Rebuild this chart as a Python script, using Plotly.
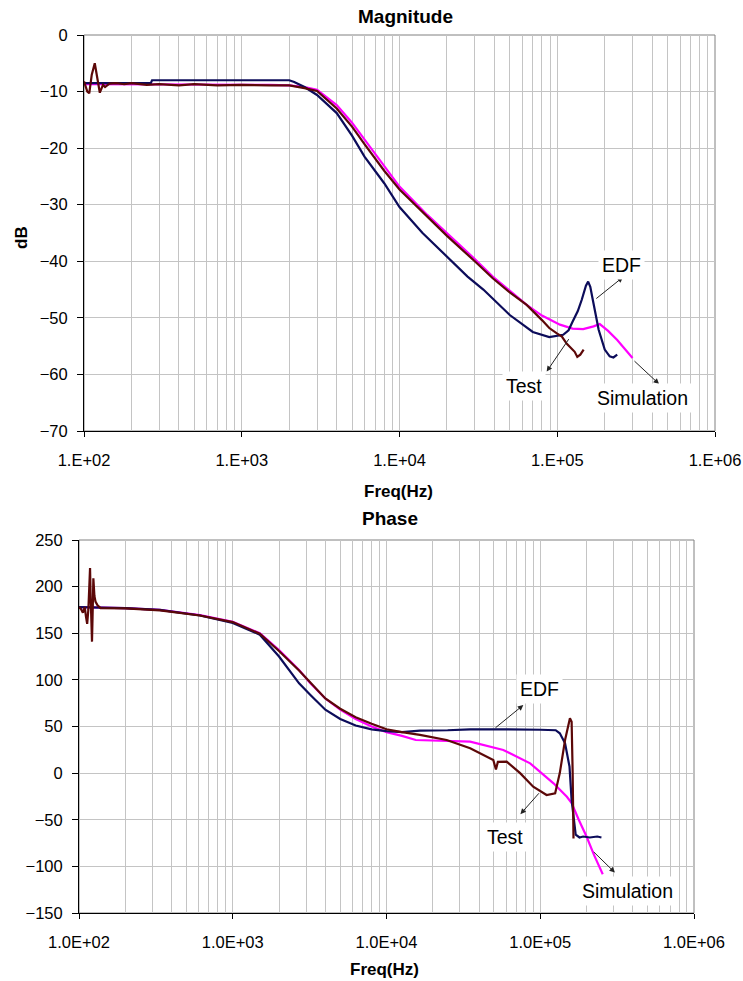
import numpy as np
import plotly.graph_objects as go

##########################################
# 1. Data
##########################################
# Magnitude (dB)
sim_mag_f = [100, 150, 200, 300, 500, 1000, 1500, 2000, 2500, 3000, 4000, 5000, 6000, 8000,
             10000, 15000, 20000, 30000, 39000, 64000, 80000, 104000, 125000, 146000, 170000,
             186000, 210000, 240000, 300000]
sim_mag = [-8.7, -8.7, -8.7, -8.7, -8.7, -8.8, -8.8, -8.9, -9.2, -9.7, -12.4, -15.5, -18.5, -23.3,
           -26.8, -31.8, -35.0, -39.6, -42.7, -47.7, -49.6, -51.2, -51.9, -52.0, -51.5,
           -51.1, -52.3, -53.9, -57.1]

edf_mag_f = [100, 150, 200, 265, 270, 500, 1000, 1500, 2000, 2150, 2500, 3000, 4000, 5000, 6000,
             8000, 10000, 14000, 20000, 27000, 34000, 50000, 70000, 89000, 109000, 118000, 125000,
             135000, 143000, 152000, 157000, 162000, 168000, 176000, 183000, 200000, 215000,
             227000, 240000]
edf_mag = [-8.5, -8.5, -8.5, -8.5, -8.0, -8.0, -8.0, -8.0, -8.0, -8.3, -9.2, -10.6, -13.8, -17.8, -21.5,
           -26.2, -30.4, -35.0, -39.2, -42.7, -45.0, -49.5, -52.5, -53.4, -53.0, -52.2, -50.7,
           -48.8, -46.8, -44.3, -43.6, -44.5, -46.8, -49.8, -52.1, -55.6, -56.8,
           -57.0, -56.5]

test_mag_f = [100, 105, 108, 112, 117, 121, 126, 132, 136, 145, 160, 180, 200, 250, 300, 400, 500,
              700, 1000, 1500, 2000, 2500, 3000, 4000, 5000, 6000, 8000, 10000, 15000, 20000,
              30000, 39000, 50000, 64000, 80000, 89000, 100000, 107000, 115000, 122000, 129000,
              134000, 140000, 147000]
test_mag = [-8.2, -10.0, -10.3, -7.0, -5.0, -7.5, -10.2, -8.8, -9.2, -8.6, -8.5, -8.7, -8.5, -8.8,
            -8.7, -8.9, -8.7, -8.9, -8.8, -8.9, -8.9, -9.4, -9.9, -13.0, -16.2, -19.3, -24.0, -27.3,
            -32.2, -35.5, -40.0, -43.0, -45.5, -47.7, -50.4, -51.8, -52.8, -53.3, -54.6, -55.3,
            -56.0, -56.9, -56.5, -55.6]

# Phase (deg)
sim_ph_f = [100, 200, 336, 612, 1000, 1500, 2000, 2700, 3200, 4000, 5000, 6300, 8000, 10000,
            12600, 15500, 35000, 57500, 86000, 122000, 149000, 160000, 178000, 200000, 224000,
            255000]
sim_ph = [178, 177, 175, 169.6, 162.4, 150, 132, 110.6, 96.3, 80, 68, 58, 50, 44,
          40, 35.5, 33.7, 24.8, 10.5, -10.9, -25.3, -32, -50, -68, -88,
          -108.5]

edf_ph_f = [100, 200, 336, 612, 1000, 1500, 2000, 2700, 3200, 4000, 5000, 6300, 8000, 10000,
            12600, 16500, 25000, 35000, 50000, 70000, 100000, 126000, 134000, 145000, 155000,
            160000, 166000, 170000, 180000, 190000, 210000, 235000, 250000]
edf_ph = [178, 177, 175, 169, 161, 148.5, 125, 96.3, 83.8, 68, 58, 51, 47, 45,
          44, 45.5, 46, 47, 47, 47, 46.5, 46, 42.7, 32, 7,
          -29, -55, -66, -69, -68, -69, -68, -69]

test_ph_f = [100, 103, 106, 109, 111, 113, 115, 117, 118, 119, 121.5, 123, 124, 126, 128, 132,
             138, 200, 336, 612, 1000, 1500, 2000, 2700, 3200, 4000, 5000, 6300, 8000, 10000,
             12600, 16500, 24600, 35000, 49500, 51500, 53000, 60500, 74000, 90000, 110000,
             125000, 134000, 145000, 156000, 160000, 162500, 164000, 164500]
test_ph = [178, 176, 172, 178, 168, 160, 175, 200, 220, 190, 141, 180, 209, 190, 184, 180,
           177, 176.7, 174.5, 169, 162, 149.5, 131, 110, 97, 80, 69, 60, 53, 47,
           44, 41, 35.5, 26.6, 14, 4, 12, 12.3, 0, -14.6, -23.5,
           -21.7, 0, 35.5, 58.8, 55, 0, -40, -70]

decades = [100, 1000, 10000, 100000, 1000000]
mag_ticktext = ["1.E+02", "1.E+03", "1.E+04", "1.E+05", "1.E+06"]
ph_ticktext = ["1.0E+02", "1.0E+03", "1.0E+04", "1.0E+05", "1.0E+06"]
minor_vals = [m * d for d in decades[:-1] for m in range(2, 10)]

##########################################
# 2. Plot
##########################################
W, H = 743, 981
FONT = "Arial, Liberation Sans, sans-serif"
GRID = "#c4c4c4"

def px(x):
    return x / W

def py(y):
    return 1 - y / H

fig = go.Figure()

series = [
    (sim_mag_f, sim_mag, "#ff00ff", "x", "y"),
    (edf_mag_f, edf_mag, "#0c0c5a", "x", "y"),
    (test_mag_f, test_mag, "#5c0808", "x", "y"),
    (sim_ph_f, sim_ph, "#ff00ff", "x2", "y2"),
    (edf_ph_f, edf_ph, "#0c0c5a", "x2", "y2"),
    (test_ph_f, test_ph, "#5c0808", "x2", "y2"),
]
for fx, fy, col, xa, ya in series:
    fig.add_trace(go.Scatter(x=fx, y=fy, mode="lines", line=dict(color=col, width=2.2),
                             xaxis=xa, yaxis=ya, showlegend=False, hoverinfo="skip"))

def xaxis_cfg(domain, anchor, ticktext):
    return dict(type="log", range=[2, 6], domain=domain, anchor=anchor, automargin=False,
                tickmode="array", tickvals=decades, ticktext=ticktext,
                ticks="outside", ticklen=5, tickcolor="black", ticklabelstandoff=9,
                showline=True, linecolor="black", linewidth=1,
                showgrid=True, gridcolor=GRID, gridwidth=1, zeroline=False,
                minor=dict(tickmode="array", tickvals=minor_vals, showgrid=True,
                           gridcolor=GRID, gridwidth=1, ticks=""),
                tickfont=dict(family=FONT, size=16.5, color="black"))

def yaxis_cfg(domain, anchor, rng, dtick):
    return dict(range=rng, dtick=dtick, domain=domain, anchor=anchor, automargin=False,
                ticks="outside", ticklen=6, tickcolor="black", ticklabelstandoff=6,
                showline=True, linecolor="black", linewidth=1,
                showgrid=True, gridcolor=GRID, gridwidth=1, zeroline=False,
                tickfont=dict(family=FONT, size=16.5, color="black"))

fig.update_layout(
    width=W, height=H,
    margin=dict(l=0, r=0, t=0, b=0, autoexpand=False),
    paper_bgcolor="white", plot_bgcolor="white",
    showlegend=False,
    xaxis=xaxis_cfg([px(84), px(715)], "y", mag_ticktext),
    yaxis=yaxis_cfg([py(431), py(35)], "x", [-70, 0], 10),
    xaxis2=xaxis_cfg([px(79), px(694)], "y2", ph_ticktext),
    yaxis2=yaxis_cfg([py(913), py(540)], "x2", [-150, 250], 50),
)

# plot area borders
for xr, yr in [("x domain", "y domain"), ("x2 domain", "y2 domain")]:
    fig.add_shape(type="rect", xref=xr, yref=yr, x0=0, x1=1, y0=0, y1=1,
                  line=dict(color="#808080", width=1), layer="below")

# titles: (text, x px, y px, angle, size)
titles = [
    ("<b>Magnitude</b>", 405, 16, 0, 19),
    ("<b>Freq(Hz)</b>", 398, 492, 0, 17),
    ("<b>dB</b>", 22, 238, -90, 17),
    ("<b>Phase</b>", 390, 518, 0, 19),
    ("<b>Freq(Hz)</b>", 384, 969, 0, 17),
]
for txt, x, y, ang, sz in titles:
    fig.add_annotation(text=txt, x=px(x), y=py(y), xref="paper", yref="paper",
                       showarrow=False, textangle=ang, xanchor="center", yanchor="middle",
                       font=dict(family=FONT, size=sz, color="black"))

# curve labels with arrows: (text, label f, label val, tail f, tail val, head f, head val, axes)
labels = [
    ("EDF", 256000, -40.6, 173000, -46.8, 261000, -42.8, "x", "y"),
    ("Test", 61500, -62.0, 120000, -53.5, 85700, -59.5, "x", "y"),
    ("Simulation", 348000, -64.1, 302000, -57.4, 442000, -61.7, "x", "y"),
    ("EDF", 98600, 89.9, 50000, 47.3, 77600, 73.0, "x2", "y2"),
    ("Test", 58700, -68.7, 100000, -20.0, 74300, -44.0, "x2", "y2"),
    ("Simulation", 370000, -126.0, 218000, -83.0, 306000, -106.7, "x2", "y2"),
]
for txt, lf, lv, tf, tv, hf, hv, xa, ya in labels:
    fig.add_annotation(text="", x=np.log10(hf), y=hv, ax=np.log10(tf), ay=tv,
                       xref=xa, yref=ya, axref=xa, ayref=ya, showarrow=True,
                       arrowhead=2, arrowsize=1.1, arrowwidth=1, arrowcolor="#222222")
    fig.add_annotation(text=txt, x=np.log10(lf), y=lv, xref=xa, yref=ya, showarrow=False,
                       bgcolor="white", borderpad=3,
                       font=dict(family=FONT, size=19.5, color="black"))

# page body has a default 8px margin; drop it so the figure fills the window
fig.write_html("out.html", config={"displayModeBar": False},
               post_script="document.body.style.margin='0px';")
